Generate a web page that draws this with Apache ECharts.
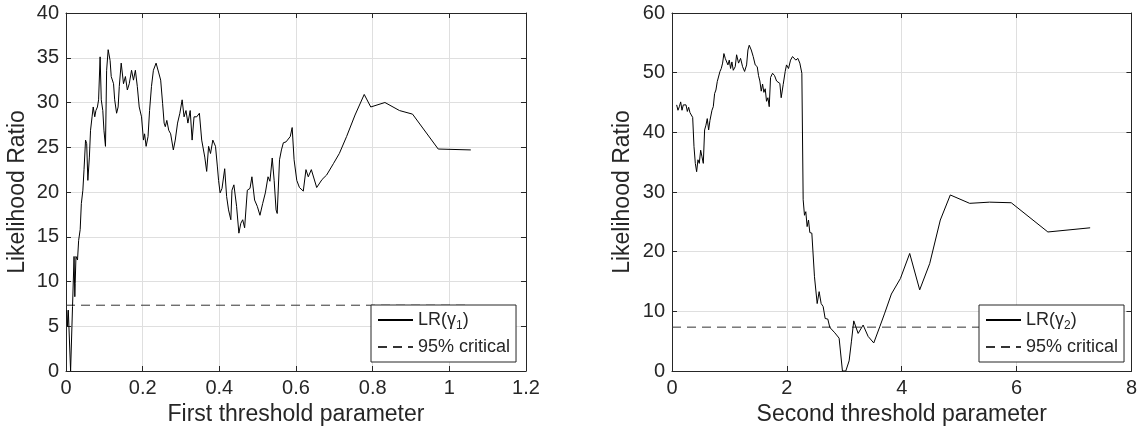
<!DOCTYPE html>
<html>
<head>
<meta charset="utf-8">
<title>Likelihood ratio</title>
<script src="https://cdn.jsdelivr.net/npm/echarts@6/dist/echarts.min.js"></script>
<style>
  html, body { margin: 0; padding: 0; background: #fff; }
  #chart { width: 1140px; height: 432px; }
</style>
</head>
<body>
<div id="chart"></div>
<script>
// first threshold parameter and its likelihood ratio
var gamma1 = [0.002, 0.004, 0.006, 0.012, 0.017, 0.021, 0.023, 0.024, 0.026, 0.030, 0.033, 0.037, 0.040, 0.044, 0.047, 0.051, 0.054, 0.057, 0.061, 0.064,
  0.068, 0.071, 0.075, 0.078, 0.082, 0.085, 0.089, 0.092, 0.096, 0.099, 0.103, 0.106, 0.110, 0.115, 0.118, 0.124, 0.127, 0.132, 0.136, 0.139,
  0.144, 0.150, 0.155, 0.160, 0.165, 0.171, 0.176, 0.181, 0.186, 0.191, 0.197, 0.202, 0.205, 0.209, 0.214, 0.218, 0.223, 0.228, 0.235, 0.242,
  0.247, 0.252, 0.256, 0.259, 0.263, 0.268, 0.273, 0.280, 0.285, 0.291, 0.297, 0.303, 0.308, 0.313, 0.318, 0.324, 0.329, 0.334, 0.341, 0.348,
  0.354, 0.362, 0.367, 0.372, 0.377, 0.383, 0.390, 0.395, 0.398, 0.402, 0.407, 0.414, 0.419, 0.424, 0.430, 0.433, 0.438, 0.445, 0.451, 0.456,
  0.461, 0.466, 0.473, 0.480, 0.485, 0.492, 0.499, 0.506, 0.513, 0.520, 0.527, 0.532, 0.538, 0.543, 0.548, 0.551, 0.557, 0.562, 0.567, 0.574,
  0.579, 0.585, 0.590, 0.595, 0.602, 0.609, 0.619, 0.626, 0.632, 0.640, 0.654, 0.668, 0.680, 0.698, 0.713, 0.732, 0.754, 0.778, 0.795, 0.832,
  0.870, 0.904, 0.971, 1.056];
var lr1 = [6.8, 5.0, 6.8, 0.0, 7.2, 12.8, 8.3, 9.8, 12.8, 12.4, 14.6, 15.8, 18.7, 20.2, 22.5, 25.8, 25.4, 21.3, 23.9, 26.9,
  28.4, 29.5, 28.4, 29.1, 29.5, 30.3, 35.1, 30.3, 29.1, 26.9, 25.1, 33.6, 35.9, 34.7, 32.9, 32.1, 30.3, 28.8, 29.5, 31.8,
  34.4, 32.1, 32.9, 31.4, 32.1, 33.6, 32.5, 33.6, 31.8, 29.5, 28.4, 25.8, 26.5, 25.1, 26.2, 29.1, 31.8, 33.6, 34.4, 33.3,
  32.5, 29.9, 27.7, 27.3, 28.0, 26.9, 26.5, 24.7, 25.8, 27.7, 28.8, 30.3, 28.4, 29.1, 27.7, 29.1, 25.8, 28.4, 28.4, 28.8,
  25.8, 23.9, 22.3, 25.1, 24.3, 25.8, 25.1, 22.8, 21.3, 19.9, 20.4, 22.6, 19.5, 18.0, 16.9, 20.2, 20.8, 18.4, 15.4, 16.5,
  16.9, 16.0, 20.2, 20.4, 21.7, 19.1, 18.4, 17.4, 18.7, 19.9, 21.7, 21.2, 23.8, 21.3, 18.0, 17.6, 23.6, 24.7, 25.5, 25.6,
  25.4, 26.2, 27.2, 23.6, 21.3, 20.5, 20.1, 22.5, 21.7, 22.5, 20.5, 21.4, 21.9, 23.2, 24.3, 26.2, 28.6, 30.9, 29.5, 30.0,
  29.1, 28.7, 24.8, 24.7];

// second threshold parameter and its likelihood ratio
var gamma2 = [0.081, 0.104, 0.128, 0.151, 0.174, 0.197, 0.220, 0.244, 0.267, 0.290, 0.313, 0.336, 0.360, 0.383, 0.406, 0.429, 0.452, 0.475, 0.499, 0.522,
  0.545, 0.568, 0.591, 0.614, 0.638, 0.661, 0.696, 0.719, 0.742, 0.765, 0.788, 0.812, 0.835, 0.858, 0.881, 0.904, 0.927, 0.951, 0.974, 0.997,
  1.020, 1.043, 1.067, 1.101, 1.125, 1.159, 1.194, 1.229, 1.264, 1.299, 1.322, 1.345, 1.380, 1.414, 1.449, 1.484, 1.507, 1.530, 1.554, 1.577,
  1.600, 1.623, 1.646, 1.670, 1.693, 1.716, 1.751, 1.786, 1.821, 1.855, 1.878, 1.901, 1.936, 1.971, 1.994, 2.029, 2.064, 2.099, 2.133, 2.156,
  2.191, 2.226, 2.261, 2.284, 2.307, 2.330, 2.353, 2.377, 2.400, 2.435, 2.481, 2.528, 2.562, 2.597, 2.632, 2.667, 2.713, 2.748, 2.835, 2.910,
  2.968, 3.026, 3.084, 3.125, 3.165, 3.241, 3.328, 3.415, 3.513, 3.617, 3.704, 3.820, 3.977, 4.139, 4.313, 4.487, 4.672, 4.846, 5.183, 5.530,
  5.907, 6.545, 7.281];
var lr2 = [44.6, 43.7, 44.3, 45.1, 43.7, 44.6, 44.9, 44.6, 43.5, 44.2, 43.3, 43.5, 42.5, 37.6, 34.8, 33.4, 35.4, 34.8, 37.0, 35.9,
  34.8, 40.4, 41.2, 42.3, 40.4, 42.0, 43.7, 44.3, 46.5, 47.1, 48.5, 48.8, 50.2, 50.7, 51.6, 53.2, 52.4, 52.7, 51.3, 52.1,
  50.7, 51.8, 50.4, 51.0, 53.0, 51.6, 52.4, 51.0, 50.2, 51.3, 53.8, 54.6, 53.8, 52.7, 51.3, 51.0, 49.5, 48.6, 46.9, 48.1,
  46.7, 47.3, 45.2, 45.8, 44.3, 49.2, 49.9, 49.5, 48.6, 48.8, 48.2, 45.8, 48.0, 50.2, 51.3, 50.7, 52.1, 52.7, 53.0, 52.1,
  52.4, 51.6, 49.9, 28.7, 26.1, 26.7, 24.2, 25.3, 23.2, 23.1, 15.8, 11.3, 13.3, 11.3, 10.8, 8.8, 8.7, 7.3, 6.4, 5.5,
  0.0, 0.0, 1.7, 5.0, 8.4, 6.3, 7.7, 5.8, 4.7, 7.4, 9.7, 12.9, 15.5, 19.7, 13.6, 18.0, 25.3, 29.5, 28.1, 28.3,
  28.2, 23.3, 24.0];

// 95% critical value
var critical = 7.35;

// axis ranges [min, max, interval]
var xRange1 = [0, 1.2, 0.2], yRange1 = [0, 40, 5];
var xRange2 = [0, 8, 2], yRange2 = [0, 60, 10];

var xNames = ['First threshold parameter', 'Second threshold parameter'];
var yName = 'Likelihood Ratio';

var FONT = '"Liberation Sans", Arial, Helvetica, sans-serif';
var INK = '#262626';

function pairs(xs, ys) {
  return xs.map(function (x, i) { return [x, ys[i]]; });
}

function axis(range, gridIndex, pos, opts) {
  var a = {
    type: 'value', gridIndex: gridIndex, position: pos,
    min: range[0], max: range[1], interval: range[2],
    axisLine: { show: true, onZero: false, lineStyle: { color: INK, width: 1 } },
    axisTick: { show: true, inside: true, length: 5, lineStyle: { color: INK } },
    axisLabel: { show: false },
    splitLine: { show: false }
  };
  return Object.assign(a, opts || {});
}

var grids = [
  { left: 66, top: 13, width: 460, height: 358 },
  { left: 672, top: 13, width: 460, height: 358 }
];

var tickLabel = { show: true, color: INK, fontFamily: FONT, fontSize: 20, margin: 7 };
var grid = { show: true, lineStyle: { color: '#dfdfdf', width: 1 } };
var nameStyle = { color: INK, fontFamily: FONT, fontSize: 23 };

var xAxes = [
  axis(xRange1, 0, 'bottom', { axisLabel: tickLabel, splitLine: grid, name: xNames[0], nameLocation: 'middle', nameGap: 29, nameTextStyle: nameStyle }),
  axis(xRange2, 1, 'bottom', { axisLabel: tickLabel, splitLine: grid, name: xNames[1], nameLocation: 'middle', nameGap: 29, nameTextStyle: nameStyle }),
  axis(xRange1, 0, 'top'),
  axis(xRange2, 1, 'top')
];
var yAxes = [
  axis(yRange1, 0, 'left', { axisLabel: tickLabel, splitLine: grid, name: yName, nameLocation: 'middle', nameGap: 37, nameTextStyle: nameStyle }),
  axis(yRange2, 1, 'left', { axisLabel: tickLabel, splitLine: grid, name: yName, nameLocation: 'middle', nameGap: 38, nameTextStyle: nameStyle }),
  axis(yRange1, 0, 'right'),
  axis(yRange2, 1, 'right')
];

var legendText = {
  lr1: '{n|LR(}{n|γ}{s|1}{n|)}',
  lr2: '{n|LR(}{n|γ}{s|2}{n|)}',
  crit1: '{n|95% critical}',
  crit2: '{n|95% critical}'
};

function legend(names, left) {
  return {
    data: names, orient: 'vertical', left: left, top: 305,
    itemWidth: 35, itemHeight: 14, itemGap: 6,
    padding: [6, 6, 6, 6],
    backgroundColor: '#fff', borderColor: INK, borderWidth: 1, borderRadius: 0,
    selectedMode: false,
    itemStyle: { opacity: 0 },
    formatter: function (name) { return legendText[name]; },
    textStyle: {
      color: INK, fontFamily: FONT, fontSize: 18,
      rich: {
        n: { color: INK, fontFamily: FONT, fontSize: 18, lineHeight: 24, verticalAlign: 'middle' },
        s: { color: INK, fontFamily: FONT, fontSize: 12, lineHeight: 12, verticalAlign: 'bottom' }
      }
    }
  };
}

function lineSeries(name, data, idx) {
  return {
    name: name, type: 'line', data: data, xAxisIndex: idx, yAxisIndex: idx,
    symbol: 'none', showSymbol: false, animation: false, silent: true,
    lineStyle: { color: '#000', width: 1 }, itemStyle: { color: '#000' }
  };
}

function critSeries(name, xs, idx) {
  return {
    name: name, type: 'line', xAxisIndex: idx, yAxisIndex: idx,
    data: [[xs[0], critical], [xs[xs.length - 1], critical]],
    symbol: 'none', showSymbol: false, animation: false, silent: true, z: 1,
    lineStyle: { color: '#333', width: 1, type: [9, 6] }, itemStyle: { color: '#333' }
  };
}

var chart = echarts.init(document.getElementById('chart'), null, { renderer: 'canvas' });
chart.setOption({
  backgroundColor: '#fff',
  animation: false,
  grid: grids,
  xAxis: xAxes,
  yAxis: yAxes,
  legend: [legend(['lr1', 'crit1'], 371), legend(['lr2', 'crit2'], 979)],
  series: [
    critSeries('crit1', [0, gamma1[gamma1.length - 1]], 0),
    lineSeries('lr1', pairs(gamma1, lr1), 0),
    critSeries('crit2', [0, gamma2[gamma2.length - 1]], 1),
    lineSeries('lr2', pairs(gamma2, lr2), 1)
  ]
});
</script>
</body>
</html>
